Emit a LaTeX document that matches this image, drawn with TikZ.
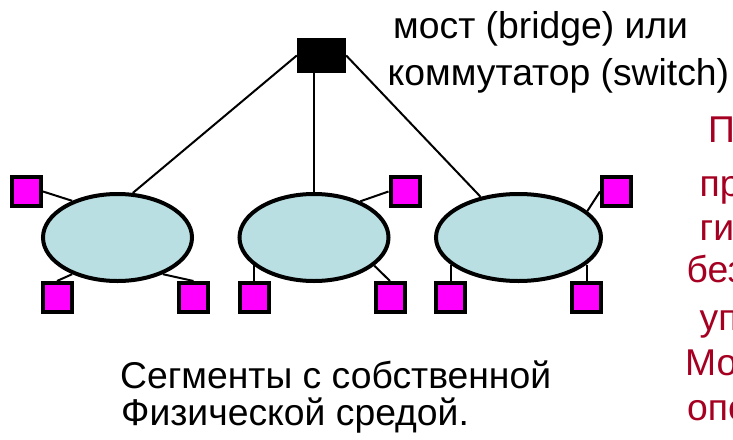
\documentclass[tikz,border=0pt]{standalone}
\usepackage{fontspec}
\setmainfont{Liberation Sans}
\usetikzlibrary{shapes.geometric}
\definecolor{segfill}{RGB}{185,223,227}
\definecolor{hostfill}{RGB}{255,0,255}
\definecolor{notered}{RGB}{165,0,33}
\begin{document}
\begin{tikzpicture}[x=1pt, y=-1pt,
  seg/.style={ellipse, draw=black, line width=4pt, fill=segfill, minimum width=149pt, minimum height=87pt, inner sep=0pt},
  host/.style={rectangle, draw=black, line width=4pt, fill=hostfill, minimum size=29pt, inner sep=0pt},
  link/.style={line width=2pt},
  txt/.style={anchor=base west, inner sep=0pt, font=\fontsize{37.3}{45}\selectfont},
  note/.style={txt, text=notered}]
\useasboundingbox (0,0) rectangle (733,439);
% segments
\node [seg] (e1) at (117.5,237.5) {};
\node [seg] (e2) at (314,237.5) {};
\node [seg, minimum width=165pt] (e3) at (518.5,237.5) {};
% bridge / switch
\node [fill=black, minimum width=49pt, minimum height=35pt, inner sep=0pt] (sw) at (321.5,55.5) {};
\draw [link] (sw.west) -- (e1.71);
\draw [link] (sw.south -| e2.north) -- (e2.north);
\draw [link] (sw.east) -- (e3.133);
% stations
\node [host] (s1a) at (26.5,191.5) {};
\node [host] (s1b) at (57,297.5) {};
\node [host] (s1c) at (193.5,297.5) {};
\node [host] (s2a) at (405,191.5) {};
\node [host] (s2b) at (254,297.5) {};
\node [host] (s2c) at (390,297.5) {};
\node [host] (s3a) at (616.5,191.5) {};
\node [host] (s3b) at (450.5,297.5) {};
\node [host] (s3c) at (586.5,297.5) {};
\draw [link] (s1a.east) -- (e1.141);
\draw [link] (s1b.north) -- (e1.219);
\draw [link] (s1c.north) -- (e1.-39);
\draw [link] (s2a.west) -- (e2.38);
\draw [link] (s2b.north) -- (s2b.north |- e2.204);
\draw [link] (s2c.north) -- (e2.-25);
\draw [link] (s3a.west) -- (e3.21);
\draw [link] (s3b.north) -- (s3b.north |- e3.202);
\draw [link] (s3c.north) -- (s3c.north |- e3.-22);
% labels
\node [txt] (br1) at (393,38) {мост (bridge) или};
\node [txt] (br2) at (387.5,85) {коммутатор (switch)};
\node [txt] (sg1) at (120,388) {Сегменты с собственной};
\node [txt] (sg2) at (121,425) {Физической средой.};
% cut-off note on the right
\node [note] (n1) at (708,142) {П};
\node [note] (n2) at (699.5,196) {пр};
\node [note] (n3) at (699.5,240.8) {ги};
\node [note] (n4) at (686.5,282) {без};
\node [note] (n5) at (699.5,330.4) {уп};
\node [note] (n6) at (685,375.2) {Мо};
\node [note] (n7) at (687,420) {опе};
\end{tikzpicture}
\end{document}
